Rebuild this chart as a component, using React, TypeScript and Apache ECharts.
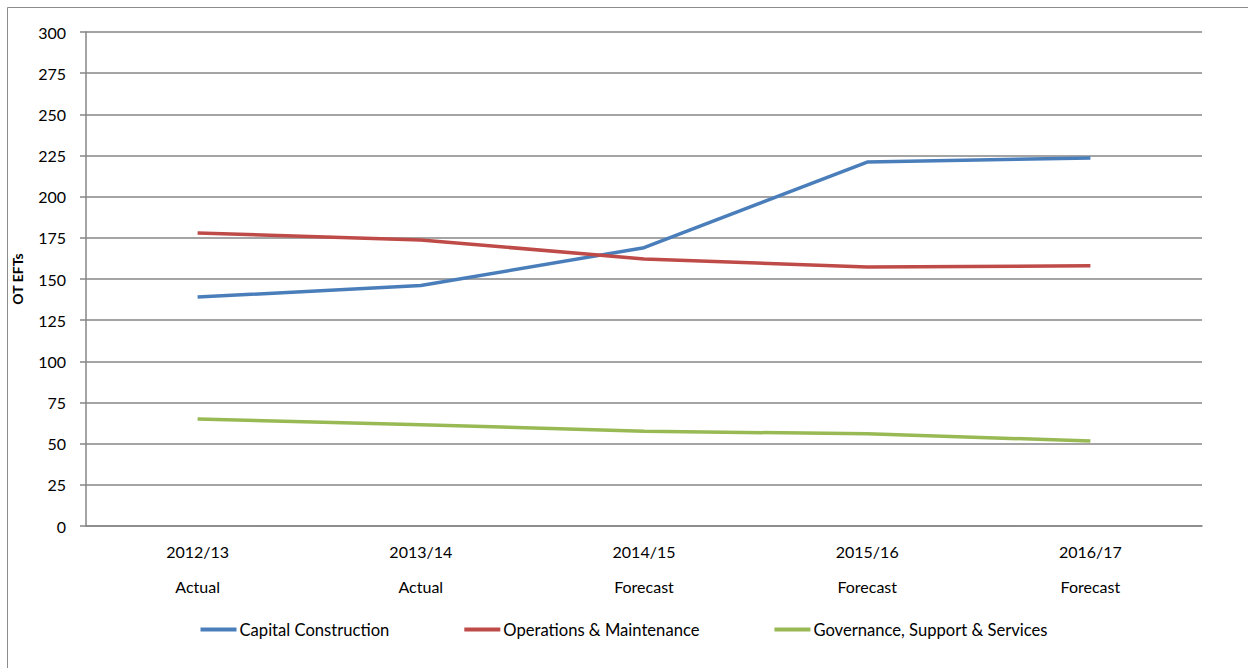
import React, { useEffect, useRef } from "react";
import * as echarts from "echarts";

const years = ["2012/13", "2013/14", "2014/15", "2015/16", "2016/17"];
const statuses = ["Actual", "Actual", "Forecast", "Forecast", "Forecast"];
const capitalConstruction = [139, 146, 169, 221, 223.5];
const operationsMaintenance = [178, 173.7, 162.2, 157.3, 158];
const governanceSupport = [65, 61.5, 57.5, 56, 51.6];

const FONT = "Lato";

export default function App() {
  const ref = useRef<HTMLDivElement>(null);
  useEffect(() => {
    document.body.style.margin = "0";
    const chart = echarts.init(ref.current!, null, { renderer: "svg" });
    const categories = years.map((y, i) => `${y}\n${statuses[i]}`);
    const mk = (name: string, data: number[], color: string) => ({
      name,
      type: "line",
      data,
      symbol: "none",
      lineStyle: { color, width: 3.5 },
      itemStyle: { color },
    });
    chart.setOption({
      animation: false,
      backgroundColor: "#fff",
      textStyle: { fontFamily: FONT },
      grid: { left: 86, right: 46, top: 32, bottom: 142 },
      graphic: [
        {
          type: "rect",
          shape: { x: 7.5, y: 7.5, width: 1300, height: 800 },
          style: { fill: "none", stroke: "#8c8c8c", lineWidth: 1 },
          silent: true,
        },
      ],
      legend: {
        bottom: 25,
        left: "center",
        icon: "rect",
        itemWidth: 36,
        itemHeight: 4,
        itemGap: 75,
        textStyle: { fontFamily: FONT, fontSize: 16.6, color: "#000", padding: [0, 0, 0, -2] },
        data: ["Capital Construction", "Operations & Maintenance", "Governance, Support & Services"],
      },
      xAxis: {
        type: "category",
        data: categories,
        boundaryGap: true,
        axisLine: { lineStyle: { color: "#868686", width: 1.5 } },
        axisTick: { show: false },
        axisLabel: {
          margin: 8,
          fontFamily: FONT,
          fontSize: 16,
          color: "#000",
          lineHeight: 35,
        },
      },
      yAxis: {
        type: "value",
        min: 0,
        max: 300,
        interval: 25,
        name: "OT EFTs",
        nameLocation: "middle",
        nameGap: 62,
        nameRotate: 90,
        nameTextStyle: { fontFamily: FONT, fontSize: 14, fontWeight: "bold", color: "#000" },
        axisLine: { show: true, lineStyle: { color: "#868686", width: 1.5 } },
        axisTick: { show: true, length: 6, lineStyle: { color: "#868686", width: 1.5 } },
        axisLabel: { margin: 20, fontFamily: FONT, fontSize: 16, color: "#000" },
        splitLine: { lineStyle: { color: "#868686", width: 1.5 } },
      },
      series: [
        mk("Capital Construction", capitalConstruction, "#4A7EBB"),
        mk("Operations & Maintenance", operationsMaintenance, "#BE4B48"),
        mk("Governance, Support & Services", governanceSupport, "#98B954"),
      ],
    });
    return () => chart.dispose();
  }, []);
  return <div ref={ref} style={{ width: 1248, height: 668 }} />;
}
